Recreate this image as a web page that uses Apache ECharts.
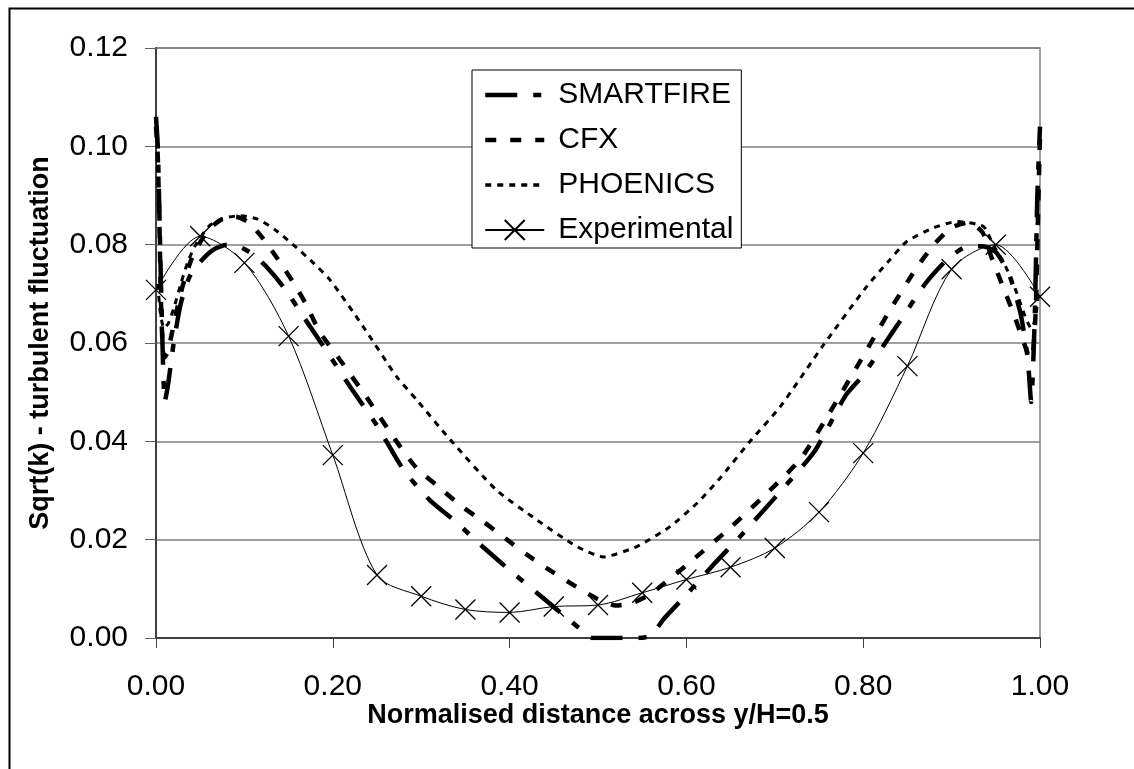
<!DOCTYPE html>
<html>
<head>
<meta charset="utf-8">
<script src="https://cdn.jsdelivr.net/npm/echarts@6/dist/echarts.min.js"></script>
<style>html,body{margin:0;padding:0;background:#fff;}#c{width:1134px;height:769px;}</style>
</head>
<body>
<div id="c"></div>
<script>
const FONT = "'Liberation Sans', Arial, sans-serif";

const xTickValues = [0, 0.2, 0.4, 0.6, 0.8, 1.0];
const yTickValues = [0, 0.02, 0.04, 0.06, 0.08, 0.10, 0.12];

const xExp = [0, 0.05, 0.10, 0.15, 0.20, 0.25, 0.30, 0.35, 0.40, 0.45, 0.50, 0.55, 0.60, 0.65, 0.70, 0.75, 0.80, 0.85, 0.90, 0.95, 1.0];
const yExp = [0.0708, 0.0817, 0.0763, 0.0614, 0.0372, 0.0128, 0.0085, 0.0058, 0.0052, 0.0064, 0.0067, 0.0092, 0.0119, 0.0144, 0.0183, 0.0256, 0.0376, 0.0553, 0.0750, 0.0800, 0.0694];

const xSmart = [0, 0.002, 0.004, 0.007, 0.010, 0.014, 0.020, 0.028, 0.038, 0.050, 0.065, 0.080, 0.095, 0.110, 0.125, 0.145, 0.170, 0.195, 0.220, 0.250, 0.280, 0.310, 0.340, 0.370, 0.400, 0.430, 0.460, 0.480, 0.492, 0.520, 0.545, 0.560, 0.575, 0.600, 0.630, 0.660, 0.700, 0.745, 0.780, 0.800, 0.840, 0.870, 0.895, 0.915, 0.935, 0.950, 0.965, 0.978, 0.986, 0.990, 0.994, 0.997, 1.0];
const ySmart = [0.106, 0.100, 0.085, 0.062, 0.048, 0.052, 0.060, 0.068, 0.0735, 0.0765, 0.0790, 0.0800, 0.0795, 0.0780, 0.0755, 0.0712, 0.0645, 0.0578, 0.0510, 0.0432, 0.0342, 0.0280, 0.0235, 0.0185, 0.0138, 0.0093, 0.0048, 0.0018, 0.0, 0.0, 0.0, 0.0005, 0.0040, 0.0088, 0.0148, 0.0205, 0.0285, 0.0380, 0.0493, 0.0535, 0.0640, 0.0720, 0.0770, 0.0795, 0.0797, 0.0785, 0.0740, 0.0660, 0.0570, 0.048, 0.065, 0.090, 0.104];

const xCfx = [0, 0.002, 0.004, 0.006, 0.009, 0.013, 0.018, 0.024, 0.030, 0.040, 0.050, 0.062, 0.075, 0.090, 0.105, 0.120, 0.140, 0.155, 0.170, 0.185, 0.208, 0.240, 0.270, 0.295, 0.320, 0.345, 0.370, 0.395, 0.420, 0.448, 0.472, 0.500, 0.520, 0.540, 0.560, 0.600, 0.650, 0.700, 0.730, 0.762, 0.794, 0.827, 0.860, 0.880, 0.900, 0.920, 0.935, 0.945, 0.958, 0.970, 0.980, 0.987, 0.991, 0.995, 0.998, 1.0];
const yCfx = [0.104, 0.098, 0.083, 0.066, 0.057, 0.058, 0.062, 0.067, 0.0715, 0.077, 0.0805, 0.0835, 0.0852, 0.0857, 0.0845, 0.0815, 0.0765, 0.0724, 0.0678, 0.0623, 0.0566, 0.0485, 0.0405, 0.0345, 0.0307, 0.0269, 0.0237, 0.0203, 0.0169, 0.0135, 0.0108, 0.0079, 0.0066, 0.0072, 0.0090, 0.0148, 0.0225, 0.0310, 0.0366, 0.0458, 0.0555, 0.0657, 0.0752, 0.0800, 0.0835, 0.0845, 0.0825, 0.0775, 0.0715, 0.0660, 0.0610, 0.0575, 0.057, 0.066, 0.088, 0.102];

const xPhoe = [0.002, 0.005, 0.009, 0.014, 0.020, 0.028, 0.036, 0.045, 0.060, 0.075, 0.095, 0.115, 0.135, 0.155, 0.175, 0.197, 0.2345, 0.272, 0.295, 0.333, 0.385, 0.431, 0.476, 0.506, 0.544, 0.581, 0.612, 0.638, 0.672, 0.706, 0.755, 0.804, 0.830, 0.849, 0.879, 0.906, 0.936, 0.947, 0.960, 0.972, 0.983, 0.990, 0.995, 0.998];
const yPhoe = [0.072, 0.066, 0.063, 0.064, 0.067, 0.072, 0.0765, 0.0800, 0.0838, 0.0853, 0.0859, 0.0852, 0.0830, 0.0800, 0.0768, 0.0728, 0.0633, 0.0532, 0.0484, 0.0403, 0.0301, 0.0240, 0.0186, 0.0165, 0.0186, 0.0226, 0.0274, 0.0325, 0.0400, 0.0470, 0.0596, 0.0715, 0.0769, 0.0806, 0.0834, 0.0847, 0.0837, 0.0800, 0.0760, 0.0710, 0.0655, 0.0630, 0.0650, 0.070];

const seriesNames = ['SMARTFIRE', 'CFX', 'PHOENICS', 'Experimental'];

function pairs(xs, ys) { return xs.map((x, i) => [x, ys[i]]); }

const DASH_SMART = [32, 16, 8, 16];
const DASH_CFX = [11, 14];
const DASH_PHOE = [6, 6];
const HIDDEN = 'rgba(0,0,0,0)';

const chart = echarts.init(document.getElementById('c'), null, { renderer: 'canvas' });
chart.setOption({
  animation: false,
  backgroundColor: '#fff',
  textStyle: { fontFamily: FONT },
  grid: { left: 156, right: 94, top: 48, bottom: 131, show: true, borderColor: '#808080', borderWidth: 1.5 },
  xAxis: {
    type: 'value', min: 0, max: 1, interval: 0.2,
    axisLine: { show: true, onZero: false, lineStyle: { color: '#404040', width: 2 } },
    axisTick: { show: true, length: 10, lineStyle: { color: '#404040', width: 1 } },
    splitLine: { show: false },
    axisLabel: { fontSize: 30, color: '#000', fontFamily: FONT, margin: 34, formatter: v => v.toFixed(2) }
  },
  yAxis: {
    type: 'value', min: 0, max: 0.12, interval: 0.02,
    axisLine: { show: true, lineStyle: { color: '#404040', width: 2 } },
    axisTick: { show: true, length: 11, lineStyle: { color: '#606060', width: 1 } },
    splitLine: { show: true, lineStyle: { color: '#808080', width: 1.5 } },
    axisLabel: { fontSize: 30, color: '#000', fontFamily: FONT, margin: 28, formatter: v => v.toFixed(2) }
  },
  legend: {
    orient: 'vertical', left: 472, top: 70,
    padding: [10, 8, 3, 11], itemGap: 15, itemWidth: 59, itemHeight: 25,
    backgroundColor: '#fff', borderColor: '#000', borderWidth: 1, borderRadius: 0,
    data: [
      { name: seriesNames[0], lineStyle: { width: 4.5, type: DASH_SMART }, itemStyle: { color: HIDDEN, borderWidth: 0 } },
      { name: seriesNames[1], lineStyle: { width: 4.5, type: DASH_CFX }, itemStyle: { color: HIDDEN, borderWidth: 0 } },
      { name: seriesNames[2], lineStyle: { width: 3.5, type: DASH_PHOE }, itemStyle: { color: HIDDEN, borderWidth: 0 } },
      { name: seriesNames[3] }
    ],
    textStyle: { fontSize: 30, color: '#000', fontFamily: FONT, padding: [0, 0, 0, 9] }
  },
  graphic: [
    { type: 'rect', left: 7, top: 6, shape: { x: 0, y: 0, width: 1300, height: 900 }, style: { fill: 'none', stroke: '#000', lineWidth: 2 }, silent: true, z: -10 },
    { type: 'text', x: 598, y: 716, style: { text: 'Normalised distance across y/H=0.5', font: 'bold 27px ' + FONT, fill: '#000', textAlign: 'center', textVerticalAlign: 'middle' } },
    { type: 'text', x: 41, y: 343, rotation: Math.PI / 2, style: { text: 'Sqrt(k) - turbulent fluctuation', font: 'bold 27px ' + FONT, fill: '#000', textAlign: 'center', textVerticalAlign: 'middle' } }
  ],
  series: [
    { name: 'SMARTFIRE', type: 'line', data: pairs(xSmart, ySmart), symbol: 'none', smooth: 0.2, z: 3,
      itemStyle: { color: HIDDEN, borderWidth: 0 }, lineStyle: { color: '#000', width: 4.5, type: DASH_SMART } },
    { name: 'CFX', type: 'line', data: pairs(xCfx, yCfx), symbol: 'none', smooth: 0.2, z: 3,
      itemStyle: { color: HIDDEN, borderWidth: 0 }, lineStyle: { color: '#000', width: 4.5, type: DASH_CFX } },
    { name: 'PHOENICS', type: 'line', data: pairs(xPhoe, yPhoe), symbol: 'none', smooth: 0.2, z: 3,
      itemStyle: { color: HIDDEN, borderWidth: 0 }, lineStyle: { color: '#000', width: 3, type: DASH_PHOE } },
    { name: 'Experimental', type: 'line', data: pairs(xExp, yExp), smooth: 0.3, z: 4,
      symbol: 'path://M0,0L10,10M10,0L0,10', symbolSize: 20, showSymbol: true,
      itemStyle: { color: HIDDEN, borderColor: '#000', borderWidth: 1.3 },
      lineStyle: { color: '#000', width: 1 } }
  ]
});
</script>
</body>
</html>
